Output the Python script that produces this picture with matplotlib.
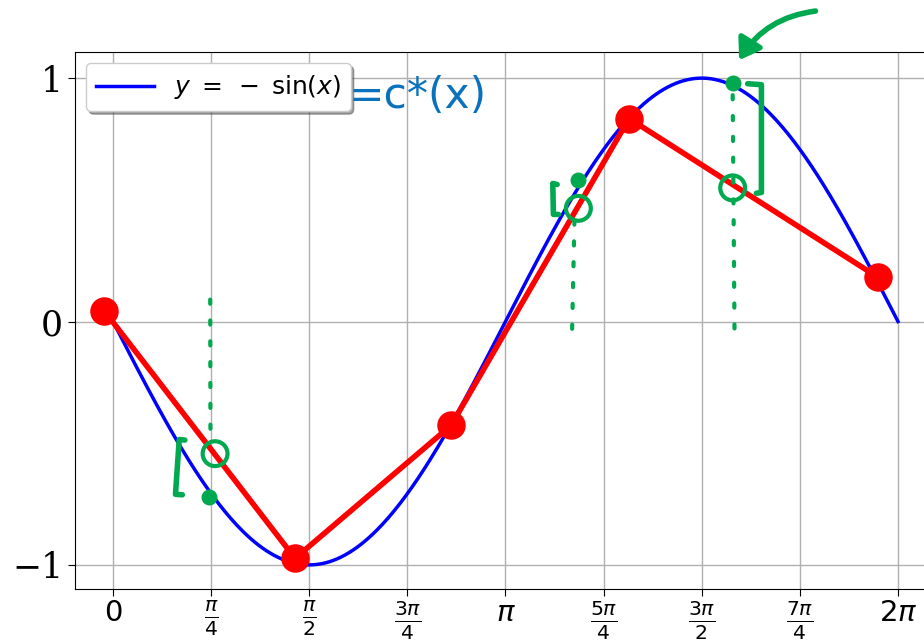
import numpy as np
import matplotlib.pyplot as plt
from matplotlib.patches import FancyArrowPatch

# red polyline samples
red_x = [-0.072, 1.457, 2.706, 4.131, 6.125]
red_y = [0.045, -0.973, -0.427, 0.834, 0.181]

tick_pos = [0, np.pi/4, np.pi/2, 3*np.pi/4, np.pi, 5*np.pi/4, 3*np.pi/2, 7*np.pi/4, 2*np.pi]
tick_lab = [r'$0$', r'$\frac{\pi}{4}$', r'$\frac{\pi}{2}$', r'$\frac{3\pi}{4}$', r'$\pi$',
            r'$\frac{5\pi}{4}$', r'$\frac{3\pi}{2}$', r'$\frac{7\pi}{4}$', r'$2\pi$']
ytick_pos = [-1, 0, 1]
ytick_lab = ['\u22121', '0', '1']

# hand drawn green marks (data coords)
dot_lines = [([0.778, 0.780], [0.09, -0.50]),
             ([3.675, 3.695], [-0.03, 0.45]),
             ([4.960, 4.975], [0.93, -0.06])]
circles_x = [0.817, 3.725, 4.960]
circles_y = [-0.543, 0.465, 0.549]
dots_x = [0.770, 3.723, 4.960]
dots_y = [-0.720, 0.580, 0.978]
brackets = [([0.575, 0.530, 0.500, 0.555], [-0.487, -0.485, -0.710, -0.712]),
            ([3.555, 3.520, 3.525, 3.565], [0.563, 0.567, 0.440, 0.440]),
            ([5.080, 5.190, 5.190, 5.150], [0.977, 0.973, 0.530, 0.527])]
green = '#00a94f'

fig = plt.figure(figsize=(9.24, 6.43), dpi=100)
ax = fig.add_axes([0.0812, 0.084, 0.932, 0.835])

x = np.linspace(0, 2*np.pi, 400)
ax.plot(x, -np.sin(x), color='blue', lw=2.5, label=r'$y\;=\;-\;\sin(x)$', zorder=3)
ax.plot(red_x, red_y, color='red', lw=4, marker='o', ms=19.5, zorder=4)

ax.set_xlim(-0.304, 6.589)
ax.set_ylim(-1.099, 1.107)
ax.set_xticks(tick_pos)
ax.set_xticklabels(tick_lab, fontsize=21)
ax.set_yticks(ytick_pos)
ax.set_yticklabels(ytick_lab, fontsize=25, family='DejaVu Serif')
ax.grid(True, color='#b0b0b0', lw=1)
ax.tick_params(length=5)
ax.tick_params(axis='x', pad=2.5)

for xs, ys in dot_lines:
    ax.plot(xs, ys, color=green, lw=3, ls=(0, (1, 4)), solid_capstyle='round',
            dash_capstyle='round', zorder=5)
ax.scatter(circles_x, circles_y, s=320, facecolors='none', edgecolors=green, lw=3, zorder=6)
ax.scatter(dots_x, dots_y, s=110, color=green, zorder=6)
for xs, ys in brackets:
    ax.plot(xs, ys, color=green, lw=4, solid_capstyle='round', solid_joinstyle='round', zorder=6)

arr = FancyArrowPatch((5.645, 1.277), (5.000, 1.064), connectionstyle='arc3,rad=0.25',
                      arrowstyle='-|>,head_length=12,head_width=8', color=green, lw=4,
                      clip_on=False, zorder=7)
ax.add_patch(arr)

leg = ax.legend(loc='upper left', fontsize=18, shadow=True, fancybox=True, framealpha=1,
                handlelength=2.3, borderaxespad=0.45)
ax.text(1.885, 0.879, '=c*(x)', fontsize=30.5, color='#0a72bd', va='baseline', zorder=8)

fig.savefig('out.png', dpi=100)
